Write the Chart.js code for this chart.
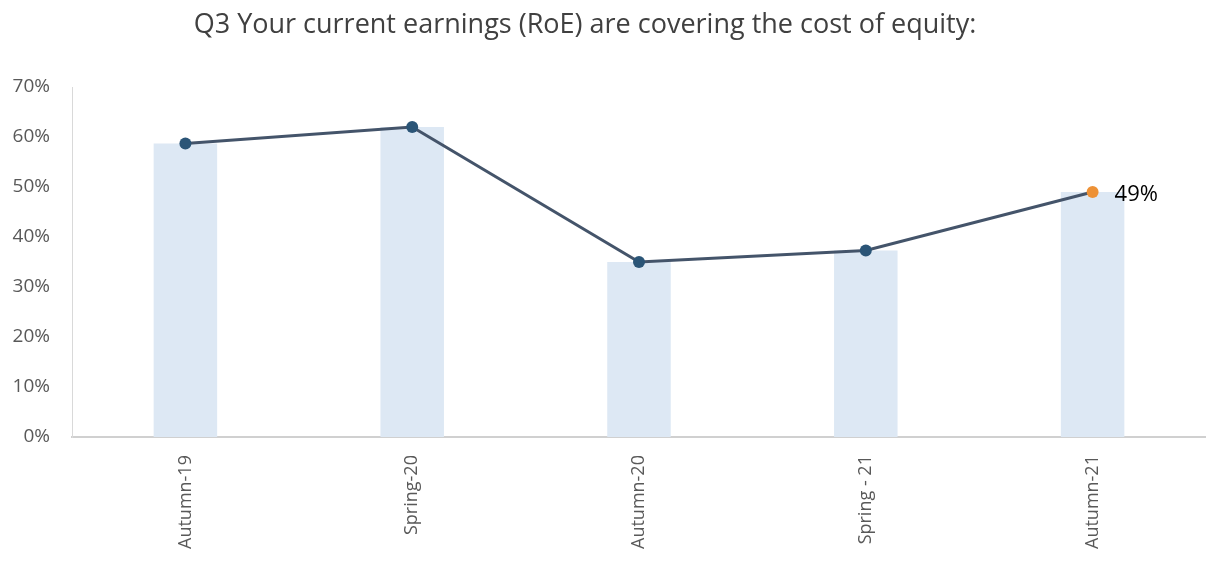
<!DOCTYPE html>
<html>
<head>
<meta charset="utf-8">
<script src="https://cdn.jsdelivr.net/npm/chart.js@4"></script>
<style>
  html, body { margin: 0; padding: 0; background: #fff; }
  #wrap { width: 1206px; height: 561px; }
</style>
</head>
<body>
<div id="wrap"><canvas id="myChart" width="1206" height="561"></canvas></div>
<script>
// data
const chartTitle = 'Q3 Your current earnings (RoE) are covering the cost of equity:'
const labels = ['Autumn-19', 'Spring-20', 'Autumn-20', 'Spring - 21', 'Autumn-21']
const barValues = [58.7, 62.0, 35.0, 37.3, 49.0]
const lineValues = [58.7, 62.0, 35.0, 37.3, 49.0]
const yTicks = [0, 10, 20, 30, 40, 50, 60, 70]

const pointColors = ['#2b5577', '#2b5577', '#2b5577', '#2b5577', '#ed9136']

// title is a bit left of the canvas middle in the original, so draw it by hand
const titlePlugin = {
  id: 'titlePlugin',
  afterDraw(chart) {
    const ctx = chart.ctx
    ctx.save()
    ctx.font = '27px "Open Sans", sans-serif'
    ctx.fillStyle = '#404040'
    ctx.textAlign = 'center'
    ctx.textBaseline = 'middle'
    ctx.fillText(chartTitle, 585, 25)
    ctx.restore()
  }
}

// label next to the last point
const lastLabel = {
  id: 'lastLabel',
  afterDatasetsDraw(chart) {
    const meta = chart.getDatasetMeta(0)
    const i = lineValues.length - 1
    const pt = meta.data[i]
    const ctx = chart.ctx
    ctx.save()
    ctx.font = '22px "Open Sans", sans-serif'
    ctx.fillStyle = '#000'
    ctx.textAlign = 'left'
    ctx.textBaseline = 'middle'
    ctx.fillText(Math.round(lineValues[i]) + '%', pt.x + 22, pt.y + 3)
    ctx.restore()
  }
}

const ctx = document.getElementById('myChart')
new Chart(ctx, {
  type: 'bar',
  data: {
    labels: labels,
    datasets: [
      {
        type: 'line',
        data: lineValues,
        borderColor: '#44546a',
        borderWidth: 3,
        pointRadius: 6,
        pointBackgroundColor: pointColors,
        pointBorderColor: pointColors,
        pointBorderWidth: 0,
        tension: 0,
        order: 0
      },
      {
        type: 'bar',
        data: barValues,
        backgroundColor: '#dde8f4',
        categoryPercentage: 1,
        barPercentage: 0.28,
        order: 1
      }
    ]
  },
  plugins: [lastLabel, titlePlugin],
  options: {
    responsive: false,
    animation: false,
    layout: { autoPadding: false, padding: { left: 12, right: 0, top: 87, bottom: 2 } },
    plugins: {
      legend: { display: false },
      tooltip: { enabled: false },
      title: { display: false }
    },
    scales: {
      x: {
        afterFit(scale) {
          scale.paddingLeft = 0
          scale.paddingRight = 0
        },
        grid: { display: false },
        border: { display: true, color: '#d0d0d0', width: 2 },
        ticks: {
          color: '#595959',
          font: { family: '"Open Sans", sans-serif', size: 18 },
          minRotation: 90,
          maxRotation: 90,
          padding: 10
        }
      },
      y: {
        min: 0,
        max: 70,
        afterBuildTicks(scale) {
          scale.ticks = yTicks.map(v => ({ value: v }))
        },
        afterFit(scale) {
          scale.width = 60
        },
        grid: { display: false, drawTicks: false },
        border: { display: true, color: '#d9d9d9', width: 1 },
        ticks: {
          color: '#595959',
          font: { family: '"Open Sans", sans-serif', size: 19 },
          padding: 22,
          callback: v => v + '%'
        }
      }
    }
  }
})
</script>
</body>
</html>
